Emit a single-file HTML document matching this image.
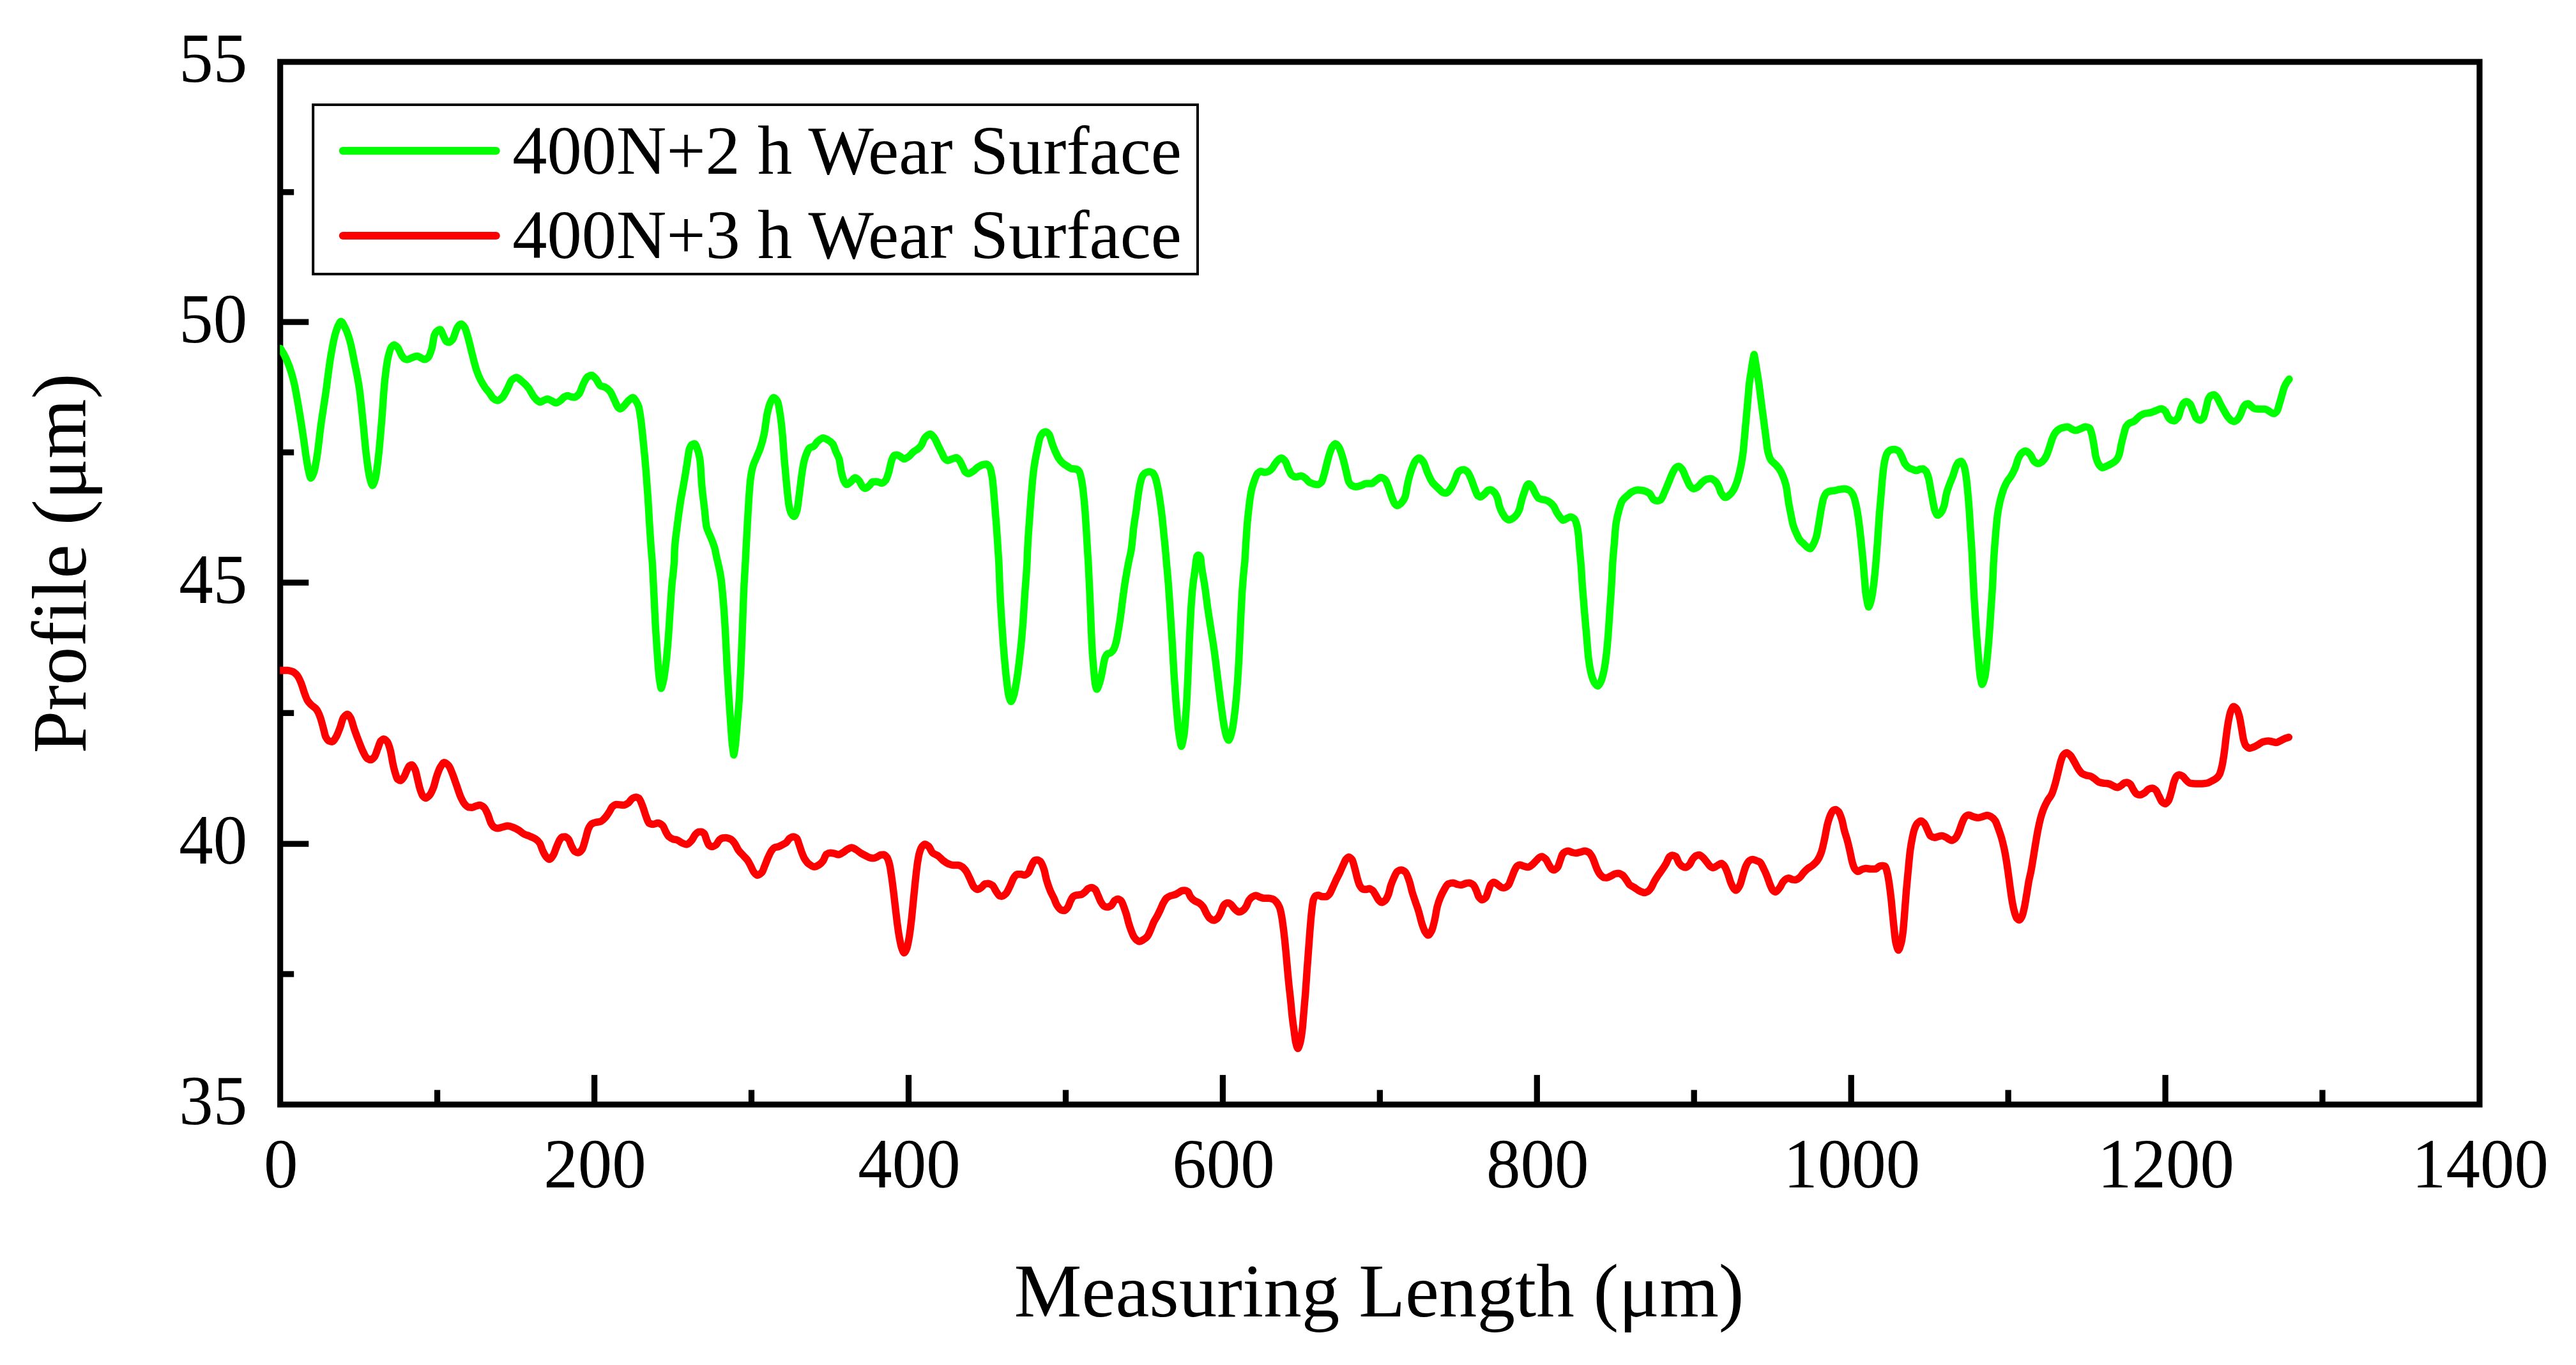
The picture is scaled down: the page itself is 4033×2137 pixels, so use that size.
<!DOCTYPE html>
<html lang="en"><head><meta charset="utf-8"><title>Wear surface profile</title>
<style>html,body{margin:0;padding:0;background:#fff}body{width:4033px;height:2137px;overflow:hidden}svg{display:block}text{font-family:"Liberation Serif",serif;fill:#000}</style></head><body>
<svg width="4033" height="2137" viewBox="0 0 4033 2137">
<rect x="0" y="0" width="4033" height="2137" fill="#fff"/>
<g stroke="#000" stroke-width="9.3" fill="none">
<line x1="684.6" y1="1729.2" x2="684.6" y2="1706.4"/>
<line x1="930.6" y1="1729.2" x2="930.6" y2="1682.9"/>
<line x1="1176.5" y1="1729.2" x2="1176.5" y2="1706.4"/>
<line x1="1422.5" y1="1729.2" x2="1422.5" y2="1682.9"/>
<line x1="1668.5" y1="1729.2" x2="1668.5" y2="1706.4"/>
<line x1="1914.4" y1="1729.2" x2="1914.4" y2="1682.9"/>
<line x1="2160.3" y1="1729.2" x2="2160.3" y2="1706.4"/>
<line x1="2406.3" y1="1729.2" x2="2406.3" y2="1682.9"/>
<line x1="2652.2" y1="1729.2" x2="2652.2" y2="1706.4"/>
<line x1="2898.2" y1="1729.2" x2="2898.2" y2="1682.9"/>
<line x1="3144.1" y1="1729.2" x2="3144.1" y2="1706.4"/>
<line x1="3390.1" y1="1729.2" x2="3390.1" y2="1682.9"/>
<line x1="3636.0" y1="1729.2" x2="3636.0" y2="1706.4"/>
<line x1="438.7" y1="1525.0" x2="460.2" y2="1525.0"/>
<line x1="438.7" y1="1321.2" x2="483.3" y2="1321.2"/>
<line x1="438.7" y1="1116.3" x2="460.2" y2="1116.3"/>
<line x1="438.7" y1="912.2" x2="483.3" y2="912.2"/>
<line x1="438.7" y1="708.2" x2="460.2" y2="708.2"/>
<line x1="438.7" y1="504.2" x2="483.3" y2="504.2"/>
<line x1="438.7" y1="300.8" x2="460.2" y2="300.8"/>
</g>
<rect x="438.7" y="96.9" width="3443.3" height="1632.3" fill="none" stroke="#000" stroke-width="9.2"/>
<g font-size="107.0">
<text transform="translate(439.7,1859) scale(1,1.035)" text-anchor="middle">0</text>
<text transform="translate(931.6,1859) scale(1,1.035)" text-anchor="middle">200</text>
<text transform="translate(1423.5,1859) scale(1,1.035)" text-anchor="middle">400</text>
<text transform="translate(1915.4,1859) scale(1,1.035)" text-anchor="middle">600</text>
<text transform="translate(2407.3,1859) scale(1,1.035)" text-anchor="middle">800</text>
<text transform="translate(2899.2,1859) scale(1,1.035)" text-anchor="middle">1000</text>
<text transform="translate(3391.1,1859) scale(1,1.035)" text-anchor="middle">1200</text>
<text transform="translate(3883.0,1859) scale(1,1.035)" text-anchor="middle">1400</text>
<text transform="translate(387.3,1759.9) scale(1,1.035)" text-anchor="end">35</text>
<text transform="translate(387.3,1351.8) scale(1,1.035)" text-anchor="end">40</text>
<text transform="translate(387.3,943.8) scale(1,1.035)" text-anchor="end">45</text>
<text transform="translate(387.3,535.7) scale(1,1.035)" text-anchor="end">50</text>
<text transform="translate(387.3,127.6) scale(1,1.035)" text-anchor="end">55</text>
</g>
<text x="1587.6" y="2061.3" font-size="119.2">Measuring Length (μm)</text>
<text transform="translate(133.5,1179.5) rotate(-90)" font-size="120.2">Profile (μm)</text>
<clipPath id="pc"><rect x="438.2" y="96.9" width="3443.8" height="1632.3"/></clipPath>
<g clip-path="url(#pc)" fill="none" stroke-width="11.5" stroke-linejoin="round" stroke-linecap="round">
<path stroke="#00ff00" d="M439.0 545.5C441.0 548.8 443.0 551.7 445.0 555.5C447.5 560.3 450.0 565.8 452.5 572.5C455.0 579.2 457.5 587.2 460.0 597.5C462.5 607.8 465.0 623.0 467.5 637.5C470.0 652.0 472.5 668.3 475.0 685.0C476.7 696.1 478.3 710.0 480.0 720.0C481.2 727.5 482.5 734.9 483.8 740.0C484.6 743.4 485.8 748.5 486.2 748.5C487.9 748.5 489.6 744.2 491.2 740.0C492.9 735.8 494.6 725.2 496.2 715.0C498.3 702.3 500.4 680.2 502.5 665.0C505.0 646.8 507.5 632.5 510.0 615.0C512.5 597.5 515.0 574.9 517.5 560.0C520.0 545.1 522.5 531.2 525.0 522.5C526.7 516.7 528.3 511.9 530.0 508.8C531.2 506.4 532.5 503.2 533.8 503.2C535.8 503.2 537.9 508.6 540.0 512.5C542.5 517.2 545.0 524.0 547.5 532.5C550.0 541.0 552.5 555.1 555.0 567.5C557.5 579.9 560.0 590.5 562.5 607.5C564.6 621.7 566.7 645.0 568.8 665.0C570.4 681.0 572.1 701.9 573.8 715.0C575.4 728.1 577.1 740.8 578.8 747.5C580.2 753.2 582.0 760.0 583.0 760.0C584.4 760.0 586.0 755.0 587.5 750.0C589.2 744.4 590.8 729.3 592.5 715.0C594.2 700.7 595.8 679.9 597.5 660.0C599.2 640.1 600.8 610.2 602.5 595.0C604.2 579.8 605.8 567.4 607.5 560.0C609.2 552.6 610.8 545.9 612.5 543.8C614.0 541.8 615.5 540.0 617.0 540.0C618.8 540.0 620.7 541.9 622.5 543.8C624.6 545.8 626.7 553.2 628.8 556.2C630.4 558.7 632.1 561.3 633.8 562.0C635.0 562.5 636.2 563.0 637.5 563.0C640.0 563.0 642.5 560.9 645.0 560.0C647.8 559.0 650.5 557.5 653.2 557.5C655.5 557.5 657.8 559.8 660.0 560.8C661.7 561.5 663.3 562.8 665.0 562.8C666.7 562.8 668.3 561.5 670.0 560.0C672.1 558.2 674.2 552.1 676.2 545.0C677.5 540.7 678.8 528.2 680.0 525.0C681.2 521.8 682.5 519.8 683.8 518.8C685.5 517.3 687.2 516.0 689.0 516.0C691.0 516.0 693.0 523.7 695.0 527.5C696.2 529.9 697.5 533.7 698.8 534.5C700.2 535.4 701.6 536.0 703.0 536.0C704.9 536.0 706.8 533.6 708.8 531.2C710.8 528.7 712.9 519.2 715.0 515.0C716.2 512.5 717.5 509.6 718.8 508.8C719.8 508.0 720.9 507.2 722.0 507.2C723.8 507.2 725.7 509.8 727.5 512.5C729.2 514.9 730.8 521.8 732.5 527.5C734.6 534.6 736.7 544.5 738.8 552.5C741.2 562.1 743.8 572.8 746.2 580.0C748.3 586.0 750.4 590.9 752.5 595.0C755.0 599.9 757.5 604.0 760.0 607.5C762.1 610.4 764.2 612.3 766.2 615.0C768.3 617.7 770.4 622.2 772.5 623.8C774.6 625.3 776.7 627.0 778.8 627.0C781.2 627.0 783.8 624.7 786.2 622.5C788.8 620.3 791.2 614.5 793.8 610.0C796.2 605.5 798.8 597.1 801.2 595.0C803.8 592.9 806.2 591.0 808.8 591.0C811.2 591.0 813.8 594.2 816.2 596.2C820.0 599.3 823.8 602.7 827.5 607.5C830.0 610.7 832.5 616.7 835.0 620.0C837.1 622.8 839.2 625.4 841.2 627.0C842.7 628.1 844.1 629.5 845.5 629.5C847.4 629.5 849.3 627.8 851.2 627.0C853.2 626.2 855.1 624.8 857.0 624.8C859.2 624.8 861.5 626.5 863.8 627.5C866.0 628.5 868.2 630.8 870.5 630.8C872.8 630.8 875.2 628.6 877.5 627.0C879.6 625.6 881.7 622.3 883.8 621.2C885.4 620.4 887.1 619.5 888.8 619.5C890.4 619.5 892.1 620.9 893.8 621.2C895.4 621.6 897.1 622.0 898.8 622.0C901.2 622.0 903.8 619.6 906.2 617.0C908.8 614.4 911.2 604.7 913.8 600.0C915.8 596.1 917.9 591.3 920.0 590.0C922.1 588.7 924.2 587.5 926.2 587.5C928.3 587.5 930.4 590.3 932.5 592.5C935.0 595.1 937.5 602.4 940.0 603.8C942.5 605.1 945.0 605.1 947.5 606.2C950.0 607.4 952.5 609.6 955.0 612.5C957.5 615.4 960.0 622.5 962.5 627.5C964.2 630.8 965.8 635.7 967.5 637.5C968.6 638.7 969.7 640.0 970.8 640.0C972.6 640.0 974.4 637.8 976.2 636.2C978.8 634.1 981.2 629.7 983.8 627.5C986.1 625.4 988.4 622.5 990.8 622.5C992.6 622.5 994.4 625.9 996.2 628.8C997.5 630.7 998.8 633.0 1000.0 637.0C1001.2 641.0 1002.5 650.7 1003.8 660.0C1005.0 669.3 1006.2 682.6 1007.5 695.0C1008.8 707.4 1010.0 719.9 1011.2 735.0C1012.3 748.1 1013.4 763.4 1014.5 780.0C1015.3 792.8 1016.2 809.2 1017.0 822.5C1017.8 835.8 1018.7 849.3 1019.5 860.0C1020.1 867.5 1020.7 871.6 1021.2 880.0C1022.1 891.9 1022.9 913.3 1023.8 930.0C1024.6 946.7 1025.4 965.4 1026.2 980.0C1027.3 998.9 1028.4 1015.5 1029.5 1030.0C1030.3 1041.2 1031.2 1053.3 1032.0 1060.0C1033.0 1068.0 1034.7 1077.8 1035.0 1077.8C1035.7 1077.8 1037.5 1070.6 1038.8 1065.0C1040.0 1059.4 1041.2 1050.3 1042.5 1040.0C1043.8 1029.7 1045.0 1015.7 1046.2 1000.0C1047.2 987.5 1048.2 970.0 1049.2 955.0C1050.1 942.5 1050.9 927.6 1051.8 917.5C1053.0 902.3 1054.2 900.2 1055.5 880.0C1055.8 876.0 1056.0 863.9 1056.2 860.0C1057.5 840.6 1058.8 835.3 1060.0 825.0C1061.8 809.9 1063.7 796.5 1065.5 785.0C1067.0 775.6 1068.5 768.6 1070.0 760.0C1071.7 750.4 1073.3 740.1 1075.0 730.0C1076.5 720.9 1078.0 706.6 1079.5 702.5C1080.7 699.3 1081.8 696.9 1083.0 696.2C1084.5 695.4 1086.0 694.8 1087.5 694.8C1089.1 694.8 1090.8 700.2 1092.5 705.0C1093.8 708.6 1095.0 713.3 1096.2 722.5C1097.1 728.6 1097.9 750.7 1098.8 760.0C1100.0 774.0 1101.2 781.7 1102.5 792.5C1103.8 803.3 1105.0 820.0 1106.2 825.0C1107.9 831.6 1109.6 833.2 1111.2 837.5C1113.8 843.9 1116.2 848.8 1118.8 857.5C1120.0 861.9 1121.2 869.7 1122.5 875.0C1122.9 876.8 1123.3 878.2 1123.8 880.0C1125.4 887.2 1127.1 893.7 1128.8 905.0C1130.0 913.5 1131.2 927.3 1132.5 942.5C1133.6 955.7 1134.7 973.6 1135.8 992.5C1136.6 1007.1 1137.4 1027.3 1138.2 1042.5C1139.2 1060.7 1140.2 1076.7 1141.2 1092.5C1142.1 1105.6 1142.9 1118.4 1143.8 1130.0C1144.6 1141.6 1145.4 1154.4 1146.2 1162.5C1147.1 1170.6 1148.5 1182.0 1148.8 1182.0C1149.0 1182.0 1150.4 1173.8 1151.2 1167.5C1152.3 1159.3 1153.4 1143.0 1154.5 1130.0C1155.5 1118.0 1156.5 1108.0 1157.5 1092.5C1158.3 1079.6 1159.2 1061.1 1160.0 1042.5C1160.7 1027.6 1161.3 1010.3 1162.0 992.5C1162.6 976.9 1163.2 956.8 1163.8 942.5C1164.3 928.2 1164.9 915.9 1165.5 905.0C1166.0 895.7 1166.5 889.1 1167.0 880.0C1167.3 873.9 1167.7 866.5 1168.0 860.0C1168.7 847.1 1169.3 834.4 1170.0 822.5C1170.8 807.6 1171.7 791.7 1172.5 780.0C1173.3 768.3 1174.2 756.3 1175.0 750.0C1176.2 740.5 1177.5 734.3 1178.8 730.0C1180.4 724.2 1182.1 721.6 1183.8 717.5C1185.8 712.4 1187.9 708.5 1190.0 702.5C1192.1 696.5 1194.2 689.8 1196.2 680.0C1197.9 672.2 1199.6 655.1 1201.2 647.5C1202.9 639.9 1204.6 633.5 1206.2 630.0C1207.9 626.5 1209.6 622.5 1211.2 622.5C1213.3 622.5 1215.4 625.1 1217.5 628.8C1218.8 631.0 1220.0 639.6 1221.2 647.5C1222.5 655.4 1223.8 666.8 1225.0 680.0C1226.0 690.6 1227.0 708.1 1228.0 720.0C1229.1 732.9 1230.2 744.1 1231.2 755.0C1232.5 767.5 1233.8 783.4 1235.0 790.0C1236.2 796.6 1237.5 801.6 1238.8 803.8C1240.2 806.2 1241.6 808.5 1243.0 808.5C1244.5 808.5 1246.0 804.5 1247.5 800.0C1248.8 796.3 1250.0 784.1 1251.2 775.0C1252.5 765.9 1253.8 753.6 1255.0 745.0C1256.2 736.4 1257.5 727.6 1258.8 722.5C1260.4 715.7 1262.1 711.0 1263.8 707.5C1265.0 704.9 1266.2 702.1 1267.5 701.2C1269.6 699.8 1271.7 700.0 1273.8 698.8C1275.8 697.5 1277.9 693.0 1280.0 691.2C1282.9 688.8 1285.8 685.8 1288.8 685.8C1291.2 685.8 1293.8 687.4 1296.2 688.8C1298.8 690.1 1301.2 691.8 1303.8 695.0C1305.4 697.2 1307.1 703.6 1308.8 707.5C1310.4 711.4 1312.1 713.3 1313.8 718.8C1315.0 722.9 1316.2 734.8 1317.5 740.0C1318.8 745.2 1320.0 750.1 1321.2 752.5C1322.8 755.4 1324.2 758.5 1325.8 758.5C1327.6 758.5 1329.4 756.4 1331.2 755.0C1333.8 753.1 1336.2 748.0 1338.8 748.0C1340.8 748.0 1342.9 750.3 1345.0 752.5C1346.7 754.2 1348.3 759.6 1350.0 761.2C1351.5 762.8 1353.0 764.5 1354.5 764.5C1356.8 764.5 1359.0 761.9 1361.2 760.0C1362.9 758.6 1364.6 754.8 1366.2 754.5C1367.9 754.2 1369.6 754.0 1371.2 754.0C1372.9 754.0 1374.6 754.6 1376.2 755.0C1377.7 755.4 1379.1 756.5 1380.5 756.5C1382.4 756.5 1384.3 754.6 1386.2 752.5C1387.9 750.7 1389.6 745.1 1391.2 740.0C1392.9 734.9 1394.6 724.2 1396.2 720.0C1397.5 716.9 1398.8 713.4 1400.0 713.0C1401.5 712.5 1403.0 712.2 1404.5 712.2C1406.3 712.2 1408.2 714.0 1410.0 715.0C1411.8 716.0 1413.7 718.5 1415.5 718.5C1417.8 718.5 1420.2 716.5 1422.5 715.0C1425.0 713.3 1427.5 709.5 1430.0 707.5C1432.5 705.5 1435.0 704.6 1437.5 702.5C1439.2 701.1 1440.8 699.4 1442.5 697.0C1444.2 694.6 1445.8 688.5 1447.5 686.2C1449.2 684.0 1450.8 682.2 1452.5 681.2C1453.8 680.5 1455.2 679.5 1456.5 679.5C1458.5 679.5 1460.5 682.5 1462.5 685.0C1464.6 687.6 1466.7 693.3 1468.8 697.5C1470.8 701.7 1472.9 705.8 1475.0 710.0C1476.2 712.5 1477.5 716.2 1478.8 717.5C1480.4 719.3 1482.1 721.0 1483.8 721.0C1485.8 721.0 1487.9 719.4 1490.0 718.8C1492.5 717.9 1495.0 716.5 1497.5 716.5C1499.2 716.5 1500.8 719.1 1502.5 721.2C1504.2 723.4 1505.8 727.9 1507.5 731.2C1508.8 733.8 1510.0 737.6 1511.2 738.8C1512.9 740.2 1514.6 741.5 1516.2 741.5C1518.8 741.5 1521.2 739.1 1523.8 737.5C1526.2 735.9 1528.8 732.8 1531.2 731.2C1533.8 729.7 1536.2 728.0 1538.8 727.5C1540.7 727.1 1542.6 726.8 1544.5 726.8C1546.3 726.8 1548.2 729.2 1550.0 732.5C1551.2 734.7 1552.5 741.8 1553.8 750.0C1554.8 757.1 1555.9 772.5 1557.0 785.0C1558.0 796.6 1559.0 808.8 1560.0 822.5C1560.8 833.9 1561.7 847.1 1562.5 860.0C1562.9 866.5 1563.3 872.0 1563.8 880.0C1564.4 892.8 1565.1 916.5 1565.8 930.0C1566.8 950.3 1567.8 965.1 1568.8 980.0C1570.0 998.6 1571.2 1015.7 1572.5 1030.0C1573.8 1044.3 1575.0 1057.3 1576.2 1067.5C1577.3 1076.3 1578.4 1086.2 1579.5 1090.0C1580.7 1094.1 1582.0 1098.2 1583.0 1098.2C1584.3 1098.2 1586.0 1092.5 1587.5 1087.5C1589.2 1082.0 1590.8 1070.9 1592.5 1060.0C1594.2 1049.1 1595.8 1035.3 1597.5 1020.0C1598.8 1008.5 1600.0 995.8 1601.2 980.0C1602.3 966.3 1603.4 946.1 1604.5 930.0C1605.7 912.7 1606.8 903.2 1608.0 880.0C1608.2 875.0 1608.5 865.2 1608.8 860.0C1609.8 837.6 1610.9 825.5 1612.0 810.0C1613.0 795.7 1614.0 781.5 1615.0 770.0C1616.2 755.6 1617.5 741.5 1618.8 732.5C1620.4 720.5 1622.1 713.0 1623.8 705.0C1625.4 697.0 1627.1 687.2 1628.8 683.8C1630.4 680.3 1632.1 677.7 1633.8 677.0C1635.0 676.5 1636.2 676.0 1637.5 676.0C1639.2 676.0 1640.8 677.9 1642.5 680.0C1644.2 682.1 1645.8 690.5 1647.5 695.0C1649.2 699.5 1650.8 703.8 1652.5 707.5C1654.2 711.2 1655.8 715.0 1657.5 717.5C1659.6 720.7 1661.7 723.2 1663.8 725.0C1666.2 727.2 1668.8 728.4 1671.2 730.0C1673.3 731.3 1675.4 733.4 1677.5 733.8C1680.0 734.2 1682.5 734.0 1685.0 734.5C1686.7 734.8 1688.3 736.3 1690.0 738.8C1691.0 740.2 1692.0 745.2 1693.0 750.0C1694.1 755.2 1695.2 763.2 1696.2 772.5C1697.1 779.7 1697.9 789.4 1698.8 800.0C1699.4 808.5 1700.1 819.3 1700.8 830.0C1701.3 839.3 1701.9 850.4 1702.5 860.0C1702.9 866.9 1703.3 872.7 1703.8 880.0C1704.6 894.6 1705.4 911.4 1706.2 930.0C1706.9 944.9 1707.6 964.6 1708.2 980.0C1708.8 993.4 1709.4 1007.9 1710.0 1017.5C1710.8 1031.2 1711.7 1041.1 1712.5 1050.0C1713.3 1058.9 1714.2 1068.6 1715.0 1072.5C1715.7 1075.6 1716.6 1079.0 1717.0 1079.0C1718.3 1079.0 1719.8 1073.9 1721.2 1070.0C1722.5 1066.5 1723.8 1060.5 1725.0 1055.0C1726.7 1047.6 1728.3 1034.1 1730.0 1030.0C1731.2 1026.9 1732.5 1024.5 1733.8 1023.8C1735.4 1022.8 1737.1 1022.9 1738.8 1022.0C1740.4 1021.1 1742.1 1019.1 1743.8 1016.2C1745.0 1014.1 1746.2 1009.8 1747.5 1005.0C1748.8 1000.2 1750.0 992.4 1751.2 985.0C1752.5 977.6 1753.8 969.1 1755.0 960.0C1756.2 950.9 1757.5 939.1 1758.8 930.0C1760.0 920.9 1761.2 912.6 1762.5 905.0C1764.0 895.9 1765.5 887.6 1767.0 880.0C1768.4 872.8 1769.8 868.9 1771.2 860.0C1772.5 852.1 1773.8 834.7 1775.0 825.0C1776.2 815.3 1777.5 808.9 1778.8 800.0C1779.8 792.2 1780.9 782.2 1782.0 775.0C1783.0 768.4 1784.0 761.8 1785.0 757.5C1786.2 752.1 1787.5 747.0 1788.8 745.0C1790.4 742.4 1792.1 740.7 1793.8 740.0C1795.6 739.2 1797.4 738.5 1799.2 738.5C1801.2 738.5 1803.1 739.3 1805.0 740.5C1806.2 741.3 1807.5 744.3 1808.8 747.5C1810.0 750.7 1811.2 756.5 1812.5 762.5C1813.8 768.5 1815.0 776.5 1816.2 785.0C1817.3 792.3 1818.4 800.5 1819.5 810.0C1820.3 817.3 1821.2 826.7 1822.0 835.0C1822.8 843.3 1823.7 851.1 1824.5 860.0C1825.1 866.2 1825.7 873.3 1826.2 880.0C1827.3 892.4 1828.4 903.3 1829.5 917.5C1830.5 930.6 1831.5 947.1 1832.5 962.5C1833.5 977.9 1834.5 993.1 1835.5 1010.0C1836.3 1024.1 1837.2 1041.9 1838.0 1055.0C1839.1 1072.1 1840.2 1086.5 1841.2 1100.0C1842.5 1115.6 1843.8 1132.8 1845.0 1142.5C1846.5 1154.1 1849.0 1168.5 1849.5 1168.5C1850.2 1168.5 1852.3 1159.1 1853.8 1150.0C1855.0 1141.9 1856.2 1124.1 1857.5 1105.0C1858.3 1092.3 1859.2 1073.6 1860.0 1055.0C1860.7 1040.1 1861.3 1019.9 1862.0 1005.0C1862.8 986.4 1863.7 967.9 1864.5 955.0C1865.5 939.5 1866.5 926.8 1867.5 917.5C1868.8 905.8 1870.0 899.3 1871.2 890.0C1872.1 883.8 1872.9 872.6 1873.8 871.2C1874.6 869.9 1875.4 869.0 1876.2 869.0C1877.3 869.0 1878.4 870.3 1879.5 872.5C1880.1 873.7 1880.7 883.3 1881.2 887.5C1882.9 899.6 1884.6 906.4 1886.2 917.5C1887.9 928.6 1889.6 943.4 1891.2 955.0C1892.9 966.6 1894.6 976.7 1896.2 987.5C1897.9 998.3 1899.6 1008.0 1901.2 1020.0C1902.9 1032.0 1904.6 1046.7 1906.2 1060.0C1907.9 1073.3 1909.6 1087.6 1911.2 1100.0C1912.9 1112.4 1914.6 1125.8 1916.2 1135.0C1917.5 1141.9 1918.8 1149.3 1920.0 1152.5C1921.2 1155.7 1922.5 1159.0 1923.8 1159.0C1924.9 1159.0 1927.1 1151.7 1928.8 1145.0C1930.4 1138.3 1932.1 1124.6 1933.8 1110.0C1935.0 1099.1 1936.2 1084.7 1937.5 1067.5C1938.3 1056.0 1939.2 1041.2 1940.0 1025.0C1940.7 1012.0 1941.3 994.1 1942.0 980.0C1942.8 962.3 1943.7 942.9 1944.5 930.0C1945.5 914.5 1946.5 903.4 1947.5 892.5C1947.9 887.9 1948.3 885.1 1948.8 880.0C1949.2 874.9 1949.6 866.5 1950.0 860.0C1950.8 847.1 1951.7 832.5 1952.5 822.5C1953.3 812.5 1954.2 804.6 1955.0 797.5C1956.2 786.8 1957.5 776.0 1958.8 770.0C1960.4 762.0 1962.1 757.1 1963.8 752.5C1965.4 747.9 1967.1 742.9 1968.8 741.2C1970.4 739.6 1972.1 738.0 1973.8 738.0C1975.8 738.0 1977.9 739.5 1980.0 739.5C1982.1 739.5 1984.2 738.8 1986.2 738.0C1987.9 737.4 1989.6 735.6 1991.2 733.8C1992.9 731.9 1994.6 728.5 1996.2 726.2C1997.9 724.0 1999.6 721.4 2001.2 720.0C2002.9 718.6 2004.6 717.0 2006.2 717.0C2008.3 717.0 2010.4 719.7 2012.5 722.5C2014.2 724.7 2015.8 731.6 2017.5 735.0C2019.2 738.4 2020.8 742.5 2022.5 743.8C2024.6 745.4 2026.7 746.8 2028.8 746.8C2031.5 746.8 2034.2 745.0 2037.0 745.0C2039.2 745.0 2041.5 747.1 2043.8 748.8C2045.8 750.2 2047.9 753.8 2050.0 755.0C2052.1 756.2 2054.2 756.9 2056.2 757.5C2058.3 758.1 2060.4 758.8 2062.5 758.8C2064.6 758.8 2066.7 757.1 2068.8 755.0C2070.4 753.3 2072.1 745.7 2073.8 740.0C2075.4 734.3 2077.1 726.0 2078.8 720.0C2080.0 715.5 2081.2 710.9 2082.5 707.5C2083.8 704.1 2085.0 700.4 2086.2 698.8C2087.8 696.8 2089.2 694.8 2090.8 694.8C2092.6 694.8 2094.4 697.4 2096.2 700.0C2098.3 702.9 2100.4 710.6 2102.5 717.5C2104.2 723.0 2105.8 730.9 2107.5 737.5C2109.0 743.4 2110.5 752.3 2112.0 755.0C2113.4 757.5 2114.8 759.3 2116.2 760.0C2118.3 761.1 2120.4 762.0 2122.5 762.0C2125.4 762.0 2128.3 760.9 2131.2 760.0C2133.8 759.3 2136.2 757.0 2138.8 757.0C2141.7 757.0 2144.6 757.0 2147.5 757.0C2149.6 757.0 2151.7 753.9 2153.8 752.5C2156.5 750.7 2159.2 747.5 2162.0 747.5C2164.2 747.5 2166.5 749.2 2168.8 751.2C2170.4 752.8 2172.1 758.2 2173.8 762.5C2175.4 766.8 2177.1 773.2 2178.8 777.5C2180.4 781.8 2182.1 787.0 2183.8 788.8C2185.0 790.1 2186.2 791.5 2187.5 791.5C2189.6 791.5 2191.7 789.4 2193.8 787.5C2195.8 785.6 2197.9 782.9 2200.0 777.5C2201.2 774.3 2202.5 763.0 2203.8 757.5C2205.8 748.4 2207.9 740.7 2210.0 735.0C2212.1 729.3 2214.2 723.6 2216.2 721.2C2218.1 719.2 2219.9 717.0 2221.8 717.0C2224.1 717.0 2226.4 720.4 2228.8 723.8C2230.8 726.7 2232.9 735.3 2235.0 740.0C2237.5 745.7 2240.0 751.6 2242.5 755.0C2245.4 758.9 2248.3 760.9 2251.2 763.8C2253.8 766.2 2256.2 769.8 2258.8 770.8C2260.4 771.4 2262.1 772.0 2263.8 772.0C2266.2 772.0 2268.8 768.2 2271.2 765.0C2273.3 762.3 2275.4 757.1 2277.5 752.5C2279.2 748.8 2280.8 742.0 2282.5 740.0C2284.2 738.0 2285.8 736.5 2287.5 736.0C2288.8 735.6 2290.0 735.2 2291.2 735.2C2293.3 735.2 2295.4 736.9 2297.5 738.8C2299.6 740.6 2301.7 746.4 2303.8 751.2C2305.4 755.1 2307.1 760.9 2308.8 765.0C2310.4 769.1 2312.1 775.0 2313.8 776.2C2315.0 777.2 2316.2 778.0 2317.5 778.0C2319.6 778.0 2321.7 775.4 2323.8 773.8C2325.8 772.1 2327.9 768.2 2330.0 767.5C2331.2 767.1 2332.5 766.8 2333.8 766.8C2335.8 766.8 2337.9 769.0 2340.0 771.2C2341.5 772.9 2343.0 775.9 2344.5 780.0C2345.5 782.7 2346.5 789.5 2347.5 792.5C2349.2 797.5 2350.8 800.8 2352.5 803.8C2354.2 806.8 2355.8 809.9 2357.5 811.2C2359.2 812.6 2360.8 814.0 2362.5 814.0C2364.6 814.0 2366.7 812.5 2368.8 811.2C2370.8 810.0 2372.9 807.9 2375.0 805.0C2376.2 803.3 2377.5 800.8 2378.8 797.5C2380.0 794.2 2381.2 786.8 2382.5 782.5C2384.2 776.7 2385.8 771.8 2387.5 767.5C2388.8 764.2 2390.0 759.7 2391.2 758.8C2392.1 758.1 2392.9 757.5 2393.8 757.5C2395.4 757.5 2397.1 760.3 2398.8 762.5C2400.4 764.7 2402.1 769.6 2403.8 772.5C2405.4 775.4 2407.1 779.1 2408.8 780.0C2410.8 781.1 2412.9 781.5 2415.0 782.0C2416.7 782.4 2418.3 782.5 2420.0 783.0C2422.1 783.6 2424.2 784.8 2426.2 786.2C2428.3 787.7 2430.4 789.7 2432.5 792.5C2434.2 794.8 2435.8 799.7 2437.5 802.5C2439.6 806.0 2441.7 809.1 2443.8 811.2C2445.0 812.6 2446.2 814.5 2447.5 814.5C2449.6 814.5 2451.7 812.2 2453.8 811.2C2455.4 810.5 2457.1 809.2 2458.8 809.2C2460.8 809.2 2462.9 810.6 2465.0 812.5C2466.2 813.7 2467.5 817.8 2468.8 822.5C2469.6 825.7 2470.4 830.5 2471.2 837.5C2471.8 842.4 2472.4 853.3 2473.0 860.0C2473.6 867.4 2474.3 872.2 2474.9 880.0C2475.8 890.1 2476.6 906.1 2477.4 917.5C2478.4 931.1 2479.4 942.9 2480.4 954.9C2481.5 967.9 2482.6 979.9 2483.7 992.4C2484.8 1004.9 2485.9 1021.3 2486.9 1029.9C2488.4 1041.1 2489.8 1049.5 2491.2 1054.9C2492.8 1061.2 2494.5 1066.1 2496.2 1068.6C2497.8 1071.1 2499.5 1073.9 2501.2 1073.9C2502.8 1073.9 2504.5 1070.5 2506.2 1067.4C2507.8 1064.2 2509.5 1057.6 2511.2 1049.9C2512.4 1044.1 2513.7 1035.3 2514.9 1024.9C2515.9 1016.6 2516.9 1005.0 2517.9 992.4C2518.7 981.9 2519.6 967.4 2520.4 954.9C2521.2 942.5 2522.1 931.4 2522.9 917.5C2523.6 906.3 2524.2 889.7 2524.9 880.0C2525.6 869.8 2526.3 863.2 2527.0 855.0C2528.0 843.2 2529.0 826.7 2530.0 820.0C2531.7 808.8 2533.3 803.2 2535.0 797.5C2536.7 791.8 2538.3 786.3 2540.0 783.8C2542.5 780.0 2545.0 778.5 2547.5 776.2C2550.0 774.0 2552.5 771.2 2555.0 770.0C2557.9 768.6 2560.8 767.0 2563.8 767.0C2566.7 767.0 2569.6 767.5 2572.5 768.0C2575.8 768.6 2579.2 770.1 2582.5 772.5C2584.6 774.0 2586.7 780.7 2588.8 782.0C2590.7 783.2 2592.6 784.2 2594.5 784.2C2596.3 784.2 2598.2 783.5 2600.0 782.5C2602.1 781.4 2604.2 774.5 2606.2 770.0C2608.3 765.5 2610.4 760.0 2612.5 755.0C2614.6 750.0 2616.7 744.0 2618.8 740.0C2620.4 736.8 2622.1 733.1 2623.8 732.0C2625.2 731.0 2626.8 730.0 2628.2 730.0C2630.1 730.0 2631.9 732.7 2633.8 735.0C2635.8 737.7 2637.9 744.4 2640.0 748.8C2642.1 753.1 2644.2 758.9 2646.2 761.2C2647.9 763.1 2649.6 765.2 2651.2 765.2C2653.3 765.2 2655.4 763.8 2657.5 762.5C2660.0 761.0 2662.5 757.1 2665.0 755.0C2667.1 753.3 2669.2 751.1 2671.2 750.5C2673.5 749.8 2675.8 749.2 2678.0 749.2C2680.3 749.2 2682.7 751.1 2685.0 753.0C2686.7 754.3 2688.3 757.0 2690.0 760.0C2691.7 763.0 2693.3 770.1 2695.0 772.5C2697.1 775.5 2699.2 778.8 2701.2 778.8C2703.3 778.8 2705.4 776.7 2707.5 775.0C2709.6 773.3 2711.7 770.8 2713.8 767.5C2715.8 764.2 2717.9 758.8 2720.0 752.5C2721.7 747.5 2723.3 740.3 2725.0 732.5C2725.8 728.9 2726.5 724.7 2727.3 720.0C2728.0 715.9 2728.6 711.7 2729.3 706.0C2729.9 700.8 2730.5 692.7 2731.1 686.0C2731.7 679.3 2732.3 672.7 2732.9 666.0C2733.5 659.3 2734.1 652.7 2734.7 646.0C2735.3 639.3 2735.9 632.7 2736.5 626.0C2737.3 617.4 2738.0 606.5 2738.8 600.0C2739.7 592.4 2740.6 587.9 2741.5 582.0C2742.3 576.6 2743.2 570.7 2744.0 566.0C2744.7 561.9 2745.9 555.0 2746.2 555.0C2746.5 555.0 2747.7 562.8 2748.4 567.0C2749.3 572.0 2750.1 577.6 2751.0 583.0C2751.9 588.6 2752.8 593.7 2753.7 600.0C2754.6 606.5 2755.6 614.7 2756.5 622.0C2757.4 629.0 2758.3 636.1 2759.2 643.0C2760.1 650.1 2761.1 657.0 2762.0 664.0C2762.9 671.0 2763.9 678.0 2764.8 685.0C2765.7 692.0 2766.7 702.0 2767.6 706.0C2769.2 712.9 2770.8 717.3 2772.4 719.8C2774.9 723.7 2777.5 724.7 2780.0 727.5C2782.1 729.8 2784.2 731.8 2786.2 735.0C2787.9 737.5 2789.6 741.0 2791.2 745.0C2792.9 749.0 2794.6 753.0 2796.2 760.0C2797.5 765.3 2798.8 777.6 2800.0 785.0C2801.2 792.4 2802.5 798.8 2803.8 805.0C2805.0 811.2 2806.2 818.4 2807.5 822.5C2809.2 828.0 2810.8 831.3 2812.5 835.0C2814.2 838.7 2815.8 842.8 2817.5 845.0C2819.6 847.8 2821.7 849.4 2823.8 851.2C2827.1 854.2 2830.4 859.0 2833.8 859.0C2835.4 859.0 2837.1 855.4 2838.8 852.5C2840.4 849.6 2842.1 845.8 2843.8 840.0C2845.0 835.7 2846.2 827.1 2847.5 820.0C2848.8 812.9 2850.0 804.1 2851.2 797.5C2852.5 790.9 2853.8 783.3 2855.0 780.0C2856.7 775.7 2858.3 772.4 2860.0 771.2C2862.1 769.9 2864.2 769.1 2866.2 768.8C2868.3 768.4 2870.4 768.3 2872.5 768.0C2875.0 767.6 2877.5 766.7 2880.0 766.2C2882.7 765.8 2885.3 765.2 2888.0 765.2C2890.3 765.2 2892.7 766.3 2895.0 767.5C2897.1 768.6 2899.2 771.2 2901.2 775.0C2902.9 778.0 2904.6 785.0 2906.2 792.5C2907.5 798.1 2908.8 806.2 2910.0 815.0C2911.0 822.0 2912.0 830.9 2913.0 840.0C2913.8 847.6 2914.7 856.7 2915.5 865.0C2916.0 870.0 2916.5 874.5 2917.0 880.0C2917.7 887.4 2918.3 897.1 2919.0 905.0C2919.8 913.8 2920.5 924.8 2921.2 930.0C2922.7 939.9 2924.9 950.2 2925.5 950.2C2926.6 950.2 2928.5 943.5 2930.0 937.5C2931.2 932.5 2932.5 922.5 2933.8 912.5C2934.8 903.8 2935.9 892.3 2937.0 880.0C2937.8 870.5 2938.7 859.1 2939.5 847.5C2940.3 835.9 2941.2 821.0 2942.0 810.0C2943.0 796.8 2944.0 786.8 2945.0 775.0C2945.8 765.1 2946.7 752.7 2947.5 745.0C2948.5 735.7 2949.5 727.0 2950.5 722.5C2952.0 715.8 2953.5 710.8 2955.0 708.8C2956.7 706.5 2958.3 705.0 2960.0 704.5C2961.8 703.9 2963.7 703.5 2965.5 703.5C2967.8 703.5 2970.2 704.7 2972.5 706.2C2974.2 707.4 2975.8 711.7 2977.5 715.0C2979.2 718.3 2980.8 723.9 2982.5 726.2C2984.6 729.2 2986.7 731.3 2988.8 732.5C2990.8 733.7 2992.9 734.2 2995.0 735.0C2996.7 735.6 2998.3 736.8 3000.0 736.8C3002.1 736.8 3004.2 734.9 3006.2 734.5C3007.7 734.3 3009.1 734.0 3010.5 734.0C3012.0 734.0 3013.5 735.7 3015.0 737.5C3016.5 739.3 3018.0 743.5 3019.5 748.8C3020.5 752.3 3021.5 759.6 3022.5 765.0C3023.8 771.7 3025.0 778.8 3026.2 785.0C3027.3 790.4 3028.4 797.5 3029.5 800.0C3030.9 803.3 3032.3 806.5 3033.8 806.5C3035.4 806.5 3037.1 804.5 3038.8 802.5C3040.4 800.5 3042.1 796.5 3043.8 791.2C3045.0 787.3 3046.2 777.2 3047.5 772.5C3049.2 766.2 3050.8 762.0 3052.5 757.5C3054.2 753.0 3055.8 749.5 3057.5 745.0C3059.2 740.5 3060.8 733.5 3062.5 730.0C3063.8 727.4 3065.0 724.6 3066.2 723.8C3067.5 722.9 3068.8 722.2 3070.0 722.2C3071.7 722.2 3073.3 725.9 3075.0 730.0C3076.0 732.5 3077.0 738.5 3078.0 745.0C3078.8 750.4 3079.7 758.9 3080.5 767.5C3081.3 776.1 3082.2 785.9 3083.0 797.5C3083.7 806.8 3084.3 819.6 3085.0 830.0C3085.7 840.4 3086.3 848.4 3087.0 860.0C3087.3 865.8 3087.7 873.1 3088.0 880.0C3088.6 892.0 3089.2 906.5 3089.8 917.5C3090.5 931.6 3091.2 943.1 3092.0 955.0C3092.8 968.2 3093.7 981.1 3094.5 992.5C3095.5 1006.2 3096.5 1018.3 3097.5 1030.0C3098.3 1039.7 3099.2 1052.2 3100.0 1057.5C3101.1 1064.3 3102.7 1071.5 3103.2 1071.5C3104.3 1071.5 3106.1 1065.8 3107.5 1060.0C3108.8 1054.9 3110.0 1041.9 3111.2 1030.0C3112.3 1019.7 3113.4 1006.7 3114.5 992.5C3115.3 981.6 3116.2 967.5 3117.0 955.0C3117.8 942.5 3118.7 932.4 3119.5 917.5C3120.1 907.1 3120.7 890.0 3121.2 880.0C3122.3 861.4 3123.4 847.6 3124.5 835.0C3125.5 823.4 3126.5 812.0 3127.5 805.0C3128.8 796.2 3130.0 790.3 3131.2 785.0C3132.9 777.9 3134.6 772.0 3136.2 767.5C3138.3 761.8 3140.4 757.3 3142.5 753.8C3144.6 750.2 3146.7 748.4 3148.8 745.0C3150.8 741.6 3152.9 737.5 3155.0 732.5C3156.7 728.5 3158.3 721.0 3160.0 717.5C3161.7 714.0 3163.3 710.9 3165.0 709.5C3167.1 707.7 3169.2 706.0 3171.2 706.0C3173.8 706.0 3176.2 709.3 3178.8 712.0C3180.8 714.3 3182.9 720.8 3185.0 722.5C3187.1 724.2 3189.2 725.8 3191.2 725.8C3193.3 725.8 3195.4 724.1 3197.5 722.5C3199.6 720.9 3201.7 717.7 3203.8 713.8C3205.4 710.6 3207.1 704.8 3208.8 700.0C3210.4 695.2 3212.1 688.7 3213.8 685.0C3215.4 681.3 3217.1 678.1 3218.8 676.2C3220.8 673.9 3222.9 672.2 3225.0 671.2C3227.1 670.3 3229.2 669.7 3231.2 669.2C3233.2 668.8 3235.1 668.2 3237.0 668.2C3239.2 668.2 3241.5 670.9 3243.8 671.8C3245.8 672.6 3247.9 673.8 3250.0 673.8C3252.5 673.8 3255.0 672.2 3257.5 671.2C3260.0 670.3 3262.5 668.2 3265.0 668.2C3267.1 668.2 3269.2 668.9 3271.2 670.0C3272.5 670.7 3273.8 675.6 3275.0 680.0C3276.0 683.5 3277.0 689.5 3278.0 695.0C3279.1 701.0 3280.2 711.0 3281.2 715.0C3282.9 721.1 3284.6 725.2 3286.2 727.5C3287.9 729.8 3289.6 732.2 3291.2 732.2C3293.3 732.2 3295.4 730.9 3297.5 730.0C3300.0 729.0 3302.5 727.7 3305.0 726.2C3307.5 724.8 3310.0 723.7 3312.5 721.2C3314.2 719.6 3315.8 716.8 3317.5 712.5C3318.8 709.2 3320.0 700.4 3321.2 695.0C3322.5 689.6 3323.8 684.5 3325.0 680.0C3326.2 675.5 3327.5 669.5 3328.8 667.5C3330.4 664.9 3332.1 663.5 3333.8 662.5C3336.2 661.0 3338.8 660.9 3341.2 659.5C3344.2 657.9 3347.1 653.1 3350.0 651.2C3352.5 649.6 3355.0 648.1 3357.5 647.5C3360.4 646.8 3363.3 646.9 3366.2 646.2C3369.2 645.6 3372.1 644.0 3375.0 643.0C3377.9 642.0 3380.8 640.0 3383.8 640.0C3385.8 640.0 3387.9 641.8 3390.0 643.8C3391.7 645.3 3393.3 651.8 3395.0 653.8C3396.7 655.7 3398.3 657.4 3400.0 658.0C3401.2 658.4 3402.5 658.9 3403.7 658.9C3405.8 658.9 3407.9 656.4 3410.0 653.6C3411.6 651.4 3413.3 642.6 3415.0 638.6C3416.2 635.7 3417.5 632.3 3418.7 631.2C3420.1 629.8 3421.6 628.7 3423.0 628.7C3424.9 628.7 3426.8 630.4 3428.7 632.4C3430.4 634.1 3432.0 639.9 3433.7 643.6C3435.4 647.4 3437.0 653.5 3438.7 654.9C3440.6 656.5 3442.5 657.9 3444.5 657.9C3446.3 657.9 3448.1 656.1 3449.9 653.6C3451.2 652.0 3452.4 644.7 3453.7 639.9C3454.9 635.1 3456.2 627.6 3457.4 624.9C3458.7 622.2 3459.9 620.1 3461.2 619.4C3462.9 618.6 3464.5 617.9 3466.2 617.9C3467.9 617.9 3469.5 620.3 3471.2 622.4C3472.8 624.5 3474.5 629.2 3476.2 632.4C3478.3 636.4 3480.3 640.1 3482.4 643.6C3484.5 647.2 3486.6 651.1 3488.7 653.6C3490.3 655.7 3492.0 657.8 3493.7 658.6C3494.9 659.2 3496.2 659.9 3497.4 659.9C3499.1 659.9 3500.7 658.6 3502.4 657.4C3504.1 656.1 3505.7 653.0 3507.4 649.9C3509.1 646.8 3510.7 640.1 3512.4 637.4C3513.6 635.4 3514.9 633.5 3516.1 632.9C3517.2 632.4 3518.3 631.9 3519.4 631.9C3521.2 631.9 3523.1 634.8 3524.9 636.1C3526.6 637.4 3528.2 639.7 3529.9 639.9C3532.4 640.2 3534.9 640.4 3537.4 640.4C3540.3 640.4 3543.2 640.4 3546.1 640.4C3548.2 640.4 3550.3 642.4 3552.4 643.6C3554.0 644.6 3555.7 646.5 3557.4 646.9C3558.4 647.1 3559.4 647.4 3560.4 647.4C3561.9 647.4 3563.4 645.6 3564.9 643.6C3566.1 642.0 3567.4 636.4 3568.6 632.4C3569.8 628.6 3571.0 624.1 3572.2 620.0C3573.5 615.5 3574.8 609.9 3576.1 606.6C3577.5 603.2 3578.8 600.7 3580.2 598.5C3581.5 596.5 3582.7 595.2 3584.0 593.5"/>
<path stroke="#ff0000" d="M439.0 1049.5C442.7 1049.5 446.3 1049.5 450.0 1049.5C452.5 1049.5 455.0 1050.4 457.5 1051.2C460.0 1052.1 462.5 1054.2 465.0 1057.0C467.1 1059.3 469.2 1063.9 471.2 1068.8C472.9 1072.6 474.6 1079.2 476.2 1083.8C477.9 1088.3 479.6 1093.5 481.2 1096.2C483.3 1099.7 485.4 1101.7 487.5 1103.8C490.0 1106.2 492.5 1107.0 495.0 1110.0C497.1 1112.5 499.2 1117.1 501.2 1122.5C502.9 1126.8 504.6 1134.0 506.2 1140.0C507.5 1144.5 508.8 1151.4 510.0 1153.8C511.7 1156.9 513.3 1159.3 515.0 1160.0C516.7 1160.7 518.3 1161.2 520.0 1161.2C522.1 1161.2 524.2 1157.1 526.2 1153.8C528.3 1150.4 530.4 1144.3 532.5 1138.8C534.2 1134.3 535.8 1126.1 537.5 1123.8C539.6 1120.9 541.7 1118.2 543.8 1118.2C545.4 1118.2 547.1 1121.1 548.8 1123.8C550.8 1127.0 552.9 1136.6 555.0 1142.5C557.5 1149.6 560.0 1156.2 562.5 1162.5C564.6 1167.8 566.7 1173.5 568.8 1177.5C570.8 1181.5 572.9 1186.3 575.0 1187.5C576.8 1188.6 578.7 1189.5 580.5 1189.5C582.4 1189.5 584.3 1187.3 586.2 1185.0C587.9 1183.0 589.6 1176.7 591.2 1172.5C592.9 1168.3 594.6 1161.7 596.2 1160.0C597.8 1158.4 599.2 1157.0 600.8 1157.0C602.6 1157.0 604.4 1159.0 606.2 1161.2C607.9 1163.3 609.6 1168.9 611.2 1175.0C612.5 1179.6 613.8 1189.3 615.0 1195.0C616.2 1200.7 617.5 1206.0 618.8 1210.0C620.0 1214.0 621.2 1219.0 622.5 1220.0C623.9 1221.2 625.3 1222.0 626.8 1222.0C628.7 1222.0 630.6 1218.9 632.5 1216.2C634.2 1213.9 635.8 1208.2 637.5 1205.0C638.8 1202.6 640.0 1199.5 641.2 1198.8C642.3 1198.1 643.4 1197.5 644.5 1197.5C646.3 1197.5 648.2 1201.2 650.0 1205.0C651.2 1207.6 652.5 1215.0 653.8 1220.0C655.0 1225.0 656.2 1231.1 657.5 1235.0C659.0 1239.6 660.5 1244.5 662.0 1246.2C663.4 1247.9 664.8 1249.5 666.2 1249.5C668.3 1249.5 670.4 1247.2 672.5 1245.0C674.6 1242.8 676.7 1237.9 678.8 1232.5C680.4 1228.2 682.1 1219.8 683.8 1215.0C685.8 1209.0 687.9 1203.2 690.0 1200.0C691.8 1197.2 693.7 1193.8 695.5 1193.8C697.8 1193.8 700.2 1196.2 702.5 1198.8C704.6 1201.0 706.7 1207.4 708.8 1212.5C710.8 1217.6 712.9 1224.2 715.0 1230.0C717.1 1235.8 719.2 1242.9 721.2 1247.5C723.3 1252.1 725.4 1256.4 727.5 1258.8C729.6 1261.1 731.7 1263.4 733.8 1263.8C735.4 1264.0 737.1 1264.2 738.8 1264.2C740.8 1264.2 742.9 1262.6 745.0 1262.0C747.1 1261.4 749.2 1260.5 751.2 1260.5C753.3 1260.5 755.4 1262.1 757.5 1263.8C759.6 1265.4 761.7 1270.4 763.8 1275.0C765.4 1278.7 767.1 1285.9 768.8 1288.8C770.4 1291.6 772.1 1294.1 773.8 1295.0C775.4 1295.9 777.1 1296.8 778.8 1296.8C781.2 1296.8 783.8 1295.6 786.2 1295.0C789.2 1294.3 792.1 1293.0 795.0 1293.0C797.9 1293.0 800.8 1294.4 803.8 1295.5C806.7 1296.6 809.6 1298.2 812.5 1300.0C815.0 1301.5 817.5 1304.2 820.0 1305.5C823.3 1307.2 826.7 1308.0 830.0 1309.5C832.9 1310.8 835.8 1311.8 838.8 1313.8C840.8 1315.1 842.9 1317.0 845.0 1320.0C846.7 1322.4 848.3 1329.1 850.0 1332.5C851.7 1335.9 853.3 1339.4 855.0 1341.2C856.7 1343.1 858.3 1345.2 860.0 1345.2C862.1 1345.2 864.2 1341.9 866.2 1338.8C867.9 1336.3 869.6 1330.2 871.2 1326.2C872.9 1322.3 874.6 1317.6 876.2 1315.0C877.5 1313.1 878.8 1310.8 880.0 1310.5C881.5 1310.2 883.0 1310.0 884.5 1310.0C886.3 1310.0 888.2 1311.8 890.0 1313.8C891.7 1315.5 893.3 1321.9 895.0 1325.0C896.7 1328.1 898.3 1331.9 900.0 1333.0C901.7 1334.1 903.3 1335.0 905.0 1335.0C907.1 1335.0 909.2 1332.7 911.2 1330.0C912.9 1327.8 914.6 1320.4 916.2 1315.0C917.9 1309.6 919.6 1301.0 921.2 1297.5C922.9 1294.0 924.6 1291.1 926.2 1290.0C928.3 1288.7 930.4 1288.0 932.5 1287.5C935.0 1286.9 937.5 1286.9 940.0 1286.2C942.5 1285.6 945.0 1282.6 947.5 1280.0C949.6 1277.8 951.7 1274.4 953.8 1271.2C955.4 1268.7 957.1 1264.4 958.8 1263.0C960.8 1261.2 962.9 1259.5 965.0 1259.5C967.1 1259.5 969.2 1259.8 971.2 1260.0C972.9 1260.1 974.6 1260.5 976.2 1260.5C978.8 1260.5 981.2 1258.7 983.8 1257.0C985.8 1255.6 987.9 1251.1 990.0 1250.0C991.8 1249.0 993.7 1248.0 995.5 1248.0C997.0 1248.0 998.5 1248.7 1000.0 1249.5C1002.1 1250.7 1004.2 1257.3 1006.2 1262.5C1007.9 1266.6 1009.6 1273.2 1011.2 1277.5C1012.9 1281.8 1014.6 1287.9 1016.2 1288.8C1018.3 1289.8 1020.4 1290.5 1022.5 1290.5C1025.0 1290.5 1027.5 1288.5 1030.0 1288.5C1032.5 1288.5 1035.0 1290.3 1037.5 1292.5C1039.2 1294.0 1040.8 1299.6 1042.5 1302.5C1044.2 1305.4 1045.8 1308.5 1047.5 1310.0C1049.6 1311.8 1051.7 1313.1 1053.8 1313.8C1055.8 1314.4 1057.9 1314.4 1060.0 1315.0C1062.5 1315.7 1065.0 1318.4 1067.5 1319.5C1070.0 1320.6 1072.5 1322.0 1075.0 1322.0C1077.5 1322.0 1080.0 1318.9 1082.5 1316.2C1084.6 1314.1 1086.7 1308.3 1088.8 1306.2C1090.4 1304.6 1092.1 1302.7 1093.8 1302.5C1095.0 1302.4 1096.2 1302.2 1097.5 1302.2C1099.2 1302.2 1100.8 1303.4 1102.5 1305.0C1103.8 1306.2 1105.0 1312.0 1106.2 1315.0C1107.5 1318.0 1108.8 1322.0 1110.0 1323.0C1111.7 1324.4 1113.3 1325.5 1115.0 1325.5C1117.1 1325.5 1119.2 1324.0 1121.2 1322.5C1122.9 1321.3 1124.6 1316.4 1126.2 1315.0C1127.9 1313.6 1129.6 1312.3 1131.2 1312.0C1132.9 1311.7 1134.6 1311.5 1136.2 1311.5C1138.8 1311.5 1141.2 1312.6 1143.8 1313.8C1145.8 1314.7 1147.9 1317.3 1150.0 1320.0C1152.1 1322.7 1154.2 1328.4 1156.2 1331.2C1158.8 1334.7 1161.2 1336.8 1163.8 1339.5C1165.8 1341.8 1167.9 1343.4 1170.0 1346.2C1171.7 1348.5 1173.3 1351.9 1175.0 1355.0C1176.7 1358.1 1178.3 1362.8 1180.0 1365.0C1181.8 1367.4 1183.7 1370.2 1185.5 1370.2C1187.8 1370.2 1190.2 1368.4 1192.5 1366.2C1194.2 1364.7 1195.8 1358.9 1197.5 1355.0C1199.2 1351.1 1200.8 1346.2 1202.5 1342.5C1204.2 1338.8 1205.8 1334.9 1207.5 1332.5C1209.2 1330.1 1210.8 1327.7 1212.5 1327.0C1214.6 1326.2 1216.7 1326.2 1218.8 1325.5C1220.8 1324.8 1222.9 1323.6 1225.0 1322.5C1227.1 1321.4 1229.2 1320.5 1231.2 1318.8C1232.9 1317.4 1234.6 1313.6 1236.2 1312.5C1238.2 1311.2 1240.1 1310.0 1242.0 1310.0C1243.8 1310.0 1245.7 1311.0 1247.5 1312.5C1248.8 1313.5 1250.0 1319.0 1251.2 1322.5C1252.5 1326.0 1253.8 1330.5 1255.0 1333.8C1256.7 1338.1 1258.3 1342.4 1260.0 1345.0C1262.1 1348.3 1264.2 1351.0 1266.2 1352.5C1269.2 1354.6 1272.1 1357.0 1275.0 1357.0C1277.5 1357.0 1280.0 1355.3 1282.5 1353.8C1284.6 1352.5 1286.7 1350.3 1288.8 1347.5C1290.4 1345.2 1292.1 1338.5 1293.8 1337.5C1295.8 1336.2 1297.9 1335.2 1300.0 1335.2C1302.1 1335.2 1304.2 1335.8 1306.2 1336.2C1308.5 1336.7 1310.8 1338.0 1313.0 1338.0C1315.3 1338.0 1317.7 1335.9 1320.0 1334.5C1322.1 1333.3 1324.2 1331.1 1326.2 1330.0C1328.5 1328.8 1330.8 1327.0 1333.0 1327.0C1335.3 1327.0 1337.7 1328.7 1340.0 1330.0C1342.5 1331.3 1345.0 1334.0 1347.5 1335.5C1350.0 1337.0 1352.5 1338.3 1355.0 1339.5C1357.5 1340.7 1360.0 1342.6 1362.5 1343.0C1364.2 1343.3 1365.8 1343.5 1367.5 1343.5C1369.6 1343.5 1371.7 1342.2 1373.8 1341.2C1375.4 1340.5 1377.1 1338.8 1378.8 1338.5C1380.4 1338.2 1382.1 1338.0 1383.8 1338.0C1385.4 1338.0 1387.1 1340.2 1388.8 1342.5C1390.0 1344.2 1391.2 1347.9 1392.5 1352.5C1393.5 1356.2 1394.5 1363.4 1395.5 1370.0C1396.6 1377.2 1397.7 1386.3 1398.8 1395.0C1399.8 1403.7 1400.9 1413.4 1402.0 1422.5C1403.0 1430.9 1404.0 1440.1 1405.0 1447.5C1406.0 1454.9 1407.0 1462.0 1408.0 1467.5C1409.1 1473.4 1410.2 1479.2 1411.2 1482.5C1412.7 1486.8 1414.2 1491.8 1415.5 1491.8C1417.0 1491.8 1418.5 1487.7 1420.0 1483.8C1421.2 1480.4 1422.5 1472.6 1423.8 1465.0C1424.8 1458.4 1425.9 1449.4 1427.0 1440.0C1428.0 1431.3 1429.0 1420.0 1430.0 1410.0C1431.0 1400.0 1432.0 1389.2 1433.0 1380.0C1434.1 1370.1 1435.2 1359.6 1436.2 1352.5C1437.3 1345.4 1438.4 1338.6 1439.5 1335.0C1440.9 1330.3 1442.3 1326.6 1443.8 1325.0C1445.2 1323.4 1446.6 1321.8 1448.0 1321.8C1449.9 1321.8 1451.8 1323.4 1453.8 1325.0C1455.8 1326.7 1457.9 1333.2 1460.0 1335.0C1462.9 1337.5 1465.8 1337.9 1468.8 1340.0C1471.2 1341.8 1473.8 1345.1 1476.2 1347.0C1479.2 1349.2 1482.1 1351.4 1485.0 1352.5C1487.5 1353.4 1490.0 1354.5 1492.5 1354.5C1495.0 1354.5 1497.5 1354.5 1500.0 1354.5C1502.1 1354.5 1504.2 1355.8 1506.2 1357.0C1508.3 1358.2 1510.4 1360.8 1512.5 1363.8C1514.6 1366.7 1516.7 1372.1 1518.8 1376.2C1520.8 1380.4 1522.9 1386.5 1525.0 1388.8C1526.7 1390.5 1528.3 1392.5 1530.0 1392.5C1532.1 1392.5 1534.2 1390.8 1536.2 1389.5C1538.3 1388.2 1540.4 1384.1 1542.5 1383.8C1544.0 1383.5 1545.5 1383.2 1547.0 1383.2C1549.2 1383.2 1551.5 1384.7 1553.8 1386.2C1555.8 1387.7 1557.9 1393.3 1560.0 1396.2C1561.7 1398.6 1563.3 1401.8 1565.0 1402.5C1566.0 1402.9 1567.0 1403.2 1568.0 1403.2C1570.3 1403.2 1572.7 1401.0 1575.0 1398.8C1577.1 1396.8 1579.2 1391.6 1581.2 1387.5C1583.3 1383.4 1585.4 1376.6 1587.5 1373.8C1589.2 1371.5 1590.8 1368.8 1592.5 1368.8C1594.6 1368.8 1596.7 1368.8 1598.8 1368.8C1600.4 1368.8 1602.1 1370.0 1603.8 1370.0C1605.8 1370.0 1607.9 1368.3 1610.0 1366.2C1611.7 1364.6 1613.3 1358.1 1615.0 1355.0C1616.7 1351.9 1618.3 1347.6 1620.0 1347.0C1621.2 1346.6 1622.5 1346.2 1623.8 1346.2C1625.4 1346.2 1627.1 1347.4 1628.8 1348.8C1630.7 1350.3 1632.6 1355.7 1634.5 1361.2C1635.9 1365.3 1637.3 1374.0 1638.8 1378.8C1640.7 1385.2 1642.6 1390.5 1644.5 1395.0C1646.3 1399.3 1648.2 1402.3 1650.0 1406.2C1651.7 1409.8 1653.3 1415.0 1655.0 1417.5C1657.1 1420.7 1659.2 1423.8 1661.2 1424.5C1662.9 1425.1 1664.6 1425.5 1666.2 1425.5C1667.9 1425.5 1669.6 1423.3 1671.2 1421.2C1672.9 1419.2 1674.6 1413.2 1676.2 1410.0C1677.5 1407.6 1678.8 1404.6 1680.0 1403.8C1682.1 1402.3 1684.2 1401.6 1686.2 1401.2C1688.3 1400.9 1690.4 1400.9 1692.5 1400.5C1694.6 1400.1 1696.7 1397.9 1698.8 1396.2C1700.4 1394.9 1702.1 1392.1 1703.8 1391.2C1705.4 1390.4 1707.1 1389.5 1708.8 1389.5C1710.7 1389.5 1712.6 1390.9 1714.5 1392.5C1715.9 1393.7 1717.3 1398.2 1718.8 1401.2C1720.4 1404.8 1722.1 1409.8 1723.8 1412.5C1725.4 1415.2 1727.1 1418.1 1728.8 1418.8C1730.4 1419.4 1732.1 1420.0 1733.8 1420.0C1735.8 1420.0 1737.9 1418.8 1740.0 1417.5C1741.7 1416.4 1743.3 1411.2 1745.0 1410.0C1746.7 1408.8 1748.3 1407.5 1750.0 1407.5C1751.7 1407.5 1753.3 1408.6 1755.0 1410.0C1756.7 1411.4 1758.3 1416.9 1760.0 1421.2C1761.2 1424.5 1762.5 1428.3 1763.8 1432.5C1764.8 1436.2 1765.9 1441.4 1767.0 1445.0C1768.4 1449.8 1769.8 1453.8 1771.2 1457.5C1772.5 1460.7 1773.8 1464.3 1775.0 1466.2C1776.7 1468.9 1778.3 1470.8 1780.0 1472.0C1781.2 1472.9 1782.5 1474.0 1783.8 1474.0C1785.8 1474.0 1787.9 1472.4 1790.0 1471.2C1792.1 1470.1 1794.2 1468.7 1796.2 1466.2C1797.9 1464.3 1799.6 1460.0 1801.2 1456.2C1802.9 1452.5 1804.6 1447.2 1806.2 1443.8C1807.9 1440.3 1809.6 1438.1 1811.2 1435.0C1812.9 1431.9 1814.6 1428.5 1816.2 1425.0C1817.9 1421.5 1819.6 1416.8 1821.2 1413.8C1822.9 1410.8 1824.6 1407.7 1826.2 1406.2C1828.3 1404.4 1830.4 1403.3 1832.5 1402.5C1835.0 1401.6 1837.5 1401.4 1840.0 1400.5C1842.1 1399.7 1844.2 1398.2 1846.2 1397.0C1847.9 1396.1 1849.6 1394.4 1851.2 1394.2C1852.5 1394.1 1853.8 1394.0 1855.0 1394.0C1856.7 1394.0 1858.3 1395.0 1860.0 1396.2C1861.2 1397.2 1862.5 1402.0 1863.8 1403.8C1865.8 1406.6 1867.9 1408.6 1870.0 1410.0C1872.5 1411.7 1875.0 1412.1 1877.5 1413.8C1879.6 1415.2 1881.7 1417.2 1883.8 1420.0C1885.4 1422.2 1887.1 1427.1 1888.8 1430.0C1890.4 1432.9 1892.1 1436.2 1893.8 1437.5C1895.8 1439.1 1897.9 1440.8 1900.0 1440.8C1902.1 1440.8 1904.2 1439.2 1906.2 1437.5C1907.9 1436.1 1909.6 1432.3 1911.2 1428.8C1912.5 1426.1 1913.8 1420.7 1915.0 1418.8C1916.2 1416.8 1917.5 1415.0 1918.8 1414.5C1920.2 1413.9 1921.6 1413.5 1923.0 1413.5C1924.5 1413.5 1926.0 1415.1 1927.5 1416.2C1929.6 1417.9 1931.7 1422.0 1933.8 1423.8C1935.8 1425.5 1937.9 1427.8 1940.0 1427.8C1942.1 1427.8 1944.2 1426.4 1946.2 1425.0C1947.9 1423.9 1949.6 1421.5 1951.2 1418.8C1952.5 1416.7 1953.8 1411.9 1955.0 1410.0C1956.7 1407.5 1958.3 1405.5 1960.0 1404.5C1962.1 1403.3 1964.2 1402.0 1966.2 1402.0C1968.3 1402.0 1970.4 1403.8 1972.5 1404.5C1974.6 1405.2 1976.7 1406.2 1978.8 1406.2C1981.2 1406.2 1983.8 1406.2 1986.2 1406.2C1988.3 1406.2 1990.4 1406.8 1992.5 1407.5C1994.2 1408.0 1995.8 1409.6 1997.5 1411.2C1999.3 1413.1 2001.2 1415.7 2003.0 1420.0C2004.1 1422.5 2005.2 1427.1 2006.2 1432.5C2007.3 1437.9 2008.4 1446.4 2009.5 1455.0C2010.5 1462.9 2011.5 1472.5 2012.5 1482.5C2013.3 1490.9 2014.2 1500.8 2015.0 1510.0C2015.8 1519.2 2016.7 1529.1 2017.5 1537.5C2018.5 1547.5 2019.5 1555.4 2020.5 1565.0C2021.4 1573.8 2022.3 1584.6 2023.2 1592.5C2024.2 1601.1 2025.2 1607.8 2026.2 1615.0C2027.1 1621.0 2027.9 1629.0 2028.8 1632.5C2029.8 1636.8 2031.1 1641.5 2031.8 1641.5C2032.8 1641.5 2034.2 1636.9 2035.5 1632.5C2036.6 1628.7 2037.7 1621.2 2038.8 1612.5C2039.6 1605.8 2040.4 1594.6 2041.2 1585.0C2042.1 1575.4 2042.9 1565.8 2043.8 1555.0C2044.6 1544.2 2045.4 1531.7 2046.2 1520.0C2047.1 1508.3 2047.9 1496.2 2048.8 1485.0C2049.6 1473.8 2050.4 1462.4 2051.2 1452.5C2052.1 1442.6 2052.9 1431.8 2053.8 1425.0C2054.6 1418.2 2055.4 1411.1 2056.2 1408.8C2057.5 1405.3 2058.8 1403.1 2060.0 1402.5C2061.2 1401.9 2062.5 1401.5 2063.8 1401.5C2065.8 1401.5 2067.9 1403.8 2070.0 1403.8C2072.1 1403.8 2074.2 1403.8 2076.2 1403.8C2077.9 1403.8 2079.6 1401.8 2081.2 1400.0C2082.9 1398.2 2084.6 1393.5 2086.2 1390.0C2087.9 1386.5 2089.6 1382.3 2091.2 1378.8C2093.3 1374.3 2095.4 1370.7 2097.5 1366.2C2099.2 1362.7 2100.8 1358.5 2102.5 1355.0C2104.2 1351.5 2105.8 1346.8 2107.5 1345.0C2108.9 1343.5 2110.3 1341.8 2111.8 1341.8C2113.5 1341.8 2115.2 1343.8 2117.0 1346.2C2118.4 1348.2 2119.8 1354.9 2121.2 1360.0C2122.5 1364.5 2123.8 1370.7 2125.0 1375.0C2126.2 1379.3 2127.5 1384.1 2128.8 1386.2C2130.4 1389.1 2132.1 1391.7 2133.8 1392.0C2135.4 1392.3 2137.1 1392.5 2138.8 1392.5C2140.4 1392.5 2142.1 1391.2 2143.8 1391.2C2145.4 1391.2 2147.1 1392.5 2148.8 1393.8C2150.4 1395.0 2152.1 1398.6 2153.8 1401.2C2155.4 1403.9 2157.1 1407.8 2158.8 1409.5C2160.2 1411.0 2161.6 1412.8 2163.0 1412.8C2164.9 1412.8 2166.8 1411.2 2168.8 1409.5C2170.4 1408.0 2172.1 1404.2 2173.8 1400.0C2175.0 1396.8 2176.2 1390.0 2177.5 1386.2C2179.2 1381.2 2180.8 1377.3 2182.5 1373.8C2184.2 1370.2 2185.8 1365.6 2187.5 1364.5C2189.6 1363.1 2191.7 1362.0 2193.8 1362.0C2195.8 1362.0 2197.9 1363.4 2200.0 1365.0C2202.1 1366.6 2204.2 1372.9 2206.2 1378.8C2207.9 1383.4 2209.6 1391.9 2211.2 1397.5C2212.9 1403.1 2214.6 1407.5 2216.2 1412.5C2217.9 1417.5 2219.6 1421.9 2221.2 1427.5C2222.9 1433.1 2224.6 1441.2 2226.2 1446.2C2227.9 1451.2 2229.6 1456.1 2231.2 1458.8C2232.8 1461.1 2234.2 1464.0 2235.8 1464.0C2237.6 1464.0 2239.4 1460.8 2241.2 1457.5C2242.9 1454.5 2244.6 1447.1 2246.2 1440.0C2247.5 1434.7 2248.8 1424.9 2250.0 1420.0C2251.7 1413.5 2253.3 1409.0 2255.0 1405.0C2257.1 1400.0 2259.2 1395.9 2261.2 1392.5C2263.3 1389.1 2265.4 1384.5 2267.5 1383.8C2270.0 1382.9 2272.5 1382.2 2275.0 1382.2C2277.1 1382.2 2279.2 1384.0 2281.2 1384.5C2283.3 1385.0 2285.4 1385.5 2287.5 1385.5C2290.0 1385.5 2292.5 1383.5 2295.0 1383.0C2296.7 1382.7 2298.3 1382.2 2300.0 1382.2C2302.1 1382.2 2304.2 1383.5 2306.2 1385.0C2307.9 1386.2 2309.6 1390.2 2311.2 1393.8C2312.5 1396.4 2313.8 1402.0 2315.0 1403.8C2316.8 1406.3 2318.7 1408.8 2320.5 1408.8C2322.4 1408.8 2324.3 1407.1 2326.2 1405.0C2327.5 1403.6 2328.8 1398.3 2330.0 1395.0C2331.2 1391.7 2332.5 1386.5 2333.8 1385.0C2335.4 1383.0 2337.1 1381.2 2338.8 1381.2C2340.8 1381.2 2342.9 1383.6 2345.0 1385.0C2347.1 1386.4 2349.2 1389.0 2351.2 1389.5C2352.3 1389.8 2353.4 1390.0 2354.5 1390.0C2356.8 1390.0 2359.0 1388.3 2361.2 1386.2C2362.9 1384.7 2364.6 1378.9 2366.2 1375.0C2367.9 1371.1 2369.6 1365.8 2371.2 1362.5C2372.5 1360.0 2373.8 1357.2 2375.0 1356.2C2376.5 1355.1 2378.0 1354.0 2379.5 1354.0C2381.8 1354.0 2384.0 1355.7 2386.2 1356.2C2388.2 1356.8 2390.1 1357.5 2392.0 1357.5C2394.2 1357.5 2396.5 1355.4 2398.8 1353.8C2400.8 1352.3 2402.9 1349.6 2405.0 1347.5C2406.7 1345.8 2408.3 1343.4 2410.0 1342.5C2411.2 1341.8 2412.5 1341.0 2413.8 1341.0C2415.8 1341.0 2417.9 1343.0 2420.0 1345.0C2421.7 1346.6 2423.3 1351.1 2425.0 1353.8C2426.5 1356.2 2428.0 1359.4 2429.5 1360.5C2430.5 1361.2 2431.5 1362.0 2432.5 1362.0C2434.6 1362.0 2436.7 1360.0 2438.8 1357.5C2440.0 1356.0 2441.2 1350.8 2442.5 1347.5C2443.8 1344.2 2445.0 1339.3 2446.2 1337.5C2447.5 1335.7 2448.8 1334.3 2450.0 1333.8C2451.7 1333.0 2453.3 1332.2 2455.0 1332.2C2457.1 1332.2 2459.2 1334.0 2461.2 1334.5C2463.3 1335.0 2465.4 1335.5 2467.5 1335.5C2470.0 1335.5 2472.5 1334.3 2475.0 1333.8C2477.1 1333.3 2479.2 1332.2 2481.2 1332.2C2483.3 1332.2 2485.4 1333.3 2487.5 1334.5C2489.2 1335.5 2490.8 1338.4 2492.5 1341.2C2493.8 1343.4 2495.0 1346.9 2496.2 1350.0C2497.5 1353.1 2498.8 1357.3 2500.0 1360.0C2501.7 1363.6 2503.3 1366.9 2505.0 1368.8C2507.1 1371.1 2509.2 1373.3 2511.2 1373.8C2512.7 1374.0 2514.1 1374.2 2515.5 1374.2C2517.8 1374.2 2520.2 1372.3 2522.5 1371.2C2524.6 1370.3 2526.7 1368.5 2528.8 1368.0C2530.4 1367.6 2532.1 1367.2 2533.8 1367.2C2535.8 1367.2 2537.9 1368.7 2540.0 1370.0C2542.1 1371.3 2544.2 1374.7 2546.2 1377.5C2547.9 1379.7 2549.6 1383.5 2551.2 1385.0C2553.3 1386.8 2555.4 1387.4 2557.5 1388.8C2560.0 1390.3 2562.5 1392.3 2565.0 1393.8C2566.7 1394.7 2568.3 1395.7 2570.0 1396.2C2571.5 1396.8 2573.0 1397.5 2574.5 1397.5C2576.3 1397.5 2578.2 1396.5 2580.0 1395.5C2581.7 1394.6 2583.3 1392.4 2585.0 1390.0C2586.7 1387.6 2588.3 1383.0 2590.0 1380.0C2592.1 1376.3 2594.2 1373.1 2596.2 1370.0C2598.3 1366.9 2600.4 1364.4 2602.5 1361.2C2604.6 1358.1 2606.7 1355.0 2608.8 1351.2C2610.4 1348.3 2612.1 1342.6 2613.8 1341.2C2615.2 1340.1 2616.8 1339.0 2618.2 1339.0C2620.1 1339.0 2621.9 1340.0 2623.8 1341.2C2625.4 1342.4 2627.1 1349.0 2628.8 1351.2C2630.4 1353.5 2632.1 1355.4 2633.8 1356.2C2635.4 1357.1 2637.1 1358.0 2638.8 1358.0C2640.8 1358.0 2642.9 1355.8 2645.0 1353.8C2646.7 1352.1 2648.3 1347.1 2650.0 1345.0C2651.7 1342.9 2653.3 1340.8 2655.0 1340.0C2656.7 1339.2 2658.3 1338.5 2660.0 1338.5C2662.1 1338.5 2664.2 1340.8 2666.2 1342.5C2668.3 1344.2 2670.4 1347.4 2672.5 1350.0C2674.2 1352.0 2675.8 1355.1 2677.5 1356.2C2679.2 1357.4 2680.8 1358.5 2682.5 1358.5C2684.6 1358.5 2686.7 1356.1 2688.8 1355.0C2690.8 1353.9 2692.9 1351.8 2695.0 1351.8C2696.7 1351.8 2698.3 1354.1 2700.0 1356.2C2701.7 1358.4 2703.3 1363.2 2705.0 1367.5C2706.7 1371.8 2708.3 1378.6 2710.0 1382.5C2711.5 1386.0 2713.0 1389.5 2714.5 1391.2C2715.5 1392.4 2716.5 1393.8 2717.5 1393.8C2719.6 1393.8 2721.7 1390.0 2723.8 1386.2C2725.4 1383.3 2727.1 1375.2 2728.8 1370.0C2730.4 1364.8 2732.1 1358.3 2733.8 1355.0C2735.4 1351.7 2737.1 1348.6 2738.8 1347.5C2740.4 1346.4 2742.1 1345.5 2743.8 1345.5C2745.8 1345.5 2747.9 1346.7 2750.0 1347.5C2751.8 1348.2 2753.7 1348.7 2755.5 1350.0C2757.4 1351.4 2759.3 1356.2 2761.2 1360.0C2762.9 1363.3 2764.6 1367.1 2766.2 1371.2C2767.9 1375.4 2769.6 1381.1 2771.2 1385.0C2772.7 1388.3 2774.1 1392.3 2775.5 1393.8C2776.8 1395.1 2778.2 1396.5 2779.5 1396.5C2781.8 1396.5 2784.0 1392.8 2786.2 1390.0C2787.9 1387.9 2789.6 1383.4 2791.2 1381.2C2792.9 1379.1 2794.6 1377.1 2796.2 1376.2C2797.7 1375.5 2799.1 1374.8 2800.5 1374.8C2802.4 1374.8 2804.3 1376.7 2806.2 1377.0C2807.7 1377.2 2809.1 1377.5 2810.5 1377.5C2812.8 1377.5 2815.2 1375.5 2817.5 1373.8C2819.6 1372.2 2821.7 1368.5 2823.8 1366.2C2825.8 1364.0 2827.9 1361.7 2830.0 1360.0C2832.5 1358.0 2835.0 1357.0 2837.5 1355.0C2840.0 1353.0 2842.5 1350.9 2845.0 1347.5C2847.1 1344.7 2849.2 1340.6 2851.2 1335.0C2852.9 1330.5 2854.6 1322.4 2856.2 1315.0C2857.9 1307.6 2859.6 1296.2 2861.2 1290.0C2862.9 1283.8 2864.6 1278.5 2866.2 1275.0C2867.5 1272.4 2868.8 1269.4 2870.0 1268.8C2871.2 1268.1 2872.5 1267.5 2873.8 1267.5C2875.4 1267.5 2877.1 1269.3 2878.8 1271.2C2880.4 1273.2 2882.1 1278.4 2883.8 1283.8C2885.0 1287.8 2886.2 1295.3 2887.5 1300.0C2889.0 1305.7 2890.5 1309.5 2892.0 1315.0C2893.4 1320.2 2894.8 1326.3 2896.2 1332.5C2897.5 1338.0 2898.8 1345.8 2900.0 1350.0C2901.2 1354.2 2902.5 1358.3 2903.8 1360.0C2905.4 1362.2 2907.1 1364.2 2908.8 1364.2C2910.8 1364.2 2912.9 1362.0 2915.0 1361.2C2917.1 1360.5 2919.2 1359.5 2921.2 1359.5C2923.8 1359.5 2926.2 1360.5 2928.8 1360.5C2931.2 1360.5 2933.8 1360.5 2936.2 1360.5C2938.3 1360.5 2940.4 1356.9 2942.5 1356.2C2944.2 1355.7 2945.8 1355.2 2947.5 1355.2C2948.8 1355.2 2950.0 1355.6 2951.2 1356.2C2952.5 1356.9 2953.8 1362.5 2955.0 1367.5C2956.0 1371.5 2957.0 1378.2 2958.0 1385.0C2958.9 1391.3 2959.8 1399.2 2960.8 1407.5C2961.6 1415.0 2962.4 1424.2 2963.2 1432.5C2964.1 1440.8 2964.9 1450.2 2965.8 1457.5C2966.5 1464.0 2967.2 1471.5 2968.0 1475.0C2969.3 1481.2 2971.1 1487.5 2972.0 1487.5C2973.2 1487.5 2974.8 1482.4 2976.2 1477.5C2977.3 1473.7 2978.4 1466.4 2979.5 1457.5C2980.3 1450.6 2981.2 1437.9 2982.0 1427.5C2982.8 1417.1 2983.7 1404.9 2984.5 1395.0C2985.5 1383.1 2986.5 1372.9 2987.5 1362.5C2988.5 1352.1 2989.5 1340.1 2990.5 1332.5C2991.6 1324.2 2992.7 1317.8 2993.8 1312.5C2995.0 1306.4 2996.2 1300.8 2997.5 1297.5C2999.0 1293.5 3000.5 1290.2 3002.0 1288.8C3003.8 1287.0 3005.7 1285.2 3007.5 1285.2C3009.2 1285.2 3010.8 1287.0 3012.5 1288.8C3014.2 1290.5 3015.8 1295.4 3017.5 1298.8C3019.2 1302.1 3020.8 1307.6 3022.5 1308.8C3024.6 1310.2 3026.7 1311.2 3028.8 1311.2C3030.8 1311.2 3032.9 1310.0 3035.0 1309.5C3036.7 1309.1 3038.3 1308.5 3040.0 1308.5C3042.1 1308.5 3044.2 1309.6 3046.2 1310.5C3047.9 1311.2 3049.6 1312.8 3051.2 1313.8C3052.7 1314.5 3054.1 1315.8 3055.5 1315.8C3057.4 1315.8 3059.3 1314.2 3061.2 1312.5C3062.9 1311.1 3064.6 1307.3 3066.2 1303.8C3067.9 1300.2 3069.6 1294.2 3071.2 1290.0C3072.5 1286.9 3073.8 1283.2 3075.0 1281.2C3076.2 1279.3 3077.5 1277.5 3078.8 1277.0C3080.0 1276.5 3081.2 1276.0 3082.5 1276.0C3085.0 1276.0 3087.5 1278.1 3090.0 1278.8C3092.3 1279.4 3094.7 1280.2 3097.0 1280.2C3099.7 1280.2 3102.3 1279.0 3105.0 1278.2C3107.1 1277.7 3109.2 1276.5 3111.2 1276.5C3113.3 1276.5 3115.4 1277.6 3117.5 1278.8C3119.6 1279.9 3121.7 1282.0 3123.8 1285.0C3125.4 1287.4 3127.1 1293.0 3128.8 1297.5C3130.4 1302.0 3132.1 1306.7 3133.8 1312.5C3135.0 1316.8 3136.2 1321.8 3137.5 1327.5C3138.8 1333.2 3140.0 1339.9 3141.2 1347.5C3142.3 1354.0 3143.4 1362.2 3144.5 1370.0C3145.5 1377.2 3146.5 1385.4 3147.5 1392.5C3148.5 1399.6 3149.5 1407.0 3150.5 1412.5C3151.6 1418.4 3152.7 1423.8 3153.8 1427.5C3155.0 1431.8 3156.2 1436.1 3157.5 1437.5C3158.8 1438.9 3160.0 1440.2 3161.2 1440.2C3162.7 1440.2 3164.1 1437.6 3165.5 1435.0C3166.8 1432.5 3168.2 1426.1 3169.5 1420.0C3170.7 1414.7 3171.8 1406.9 3173.0 1400.0C3174.1 1393.6 3175.2 1385.8 3176.2 1380.0C3177.5 1373.3 3178.8 1369.1 3180.0 1362.5C3181.2 1355.9 3182.5 1347.6 3183.8 1340.0C3184.8 1333.4 3185.9 1326.4 3187.0 1320.0C3188.2 1313.1 3189.3 1305.9 3190.5 1300.0C3192.0 1292.5 3193.5 1285.4 3195.0 1280.0C3196.7 1274.0 3198.3 1269.0 3200.0 1265.0C3202.1 1260.0 3204.2 1256.1 3206.2 1252.5C3208.2 1249.2 3210.1 1247.6 3212.0 1243.8C3213.8 1240.1 3215.7 1233.7 3217.5 1227.5C3219.2 1221.8 3220.8 1214.2 3222.5 1207.5C3223.8 1202.5 3225.0 1196.5 3226.2 1192.5C3227.5 1188.5 3228.8 1184.0 3230.0 1182.5C3231.8 1180.3 3233.7 1178.5 3235.5 1178.5C3237.4 1178.5 3239.3 1180.7 3241.2 1182.5C3243.3 1184.5 3245.4 1189.0 3247.5 1192.5C3249.6 1196.0 3251.7 1200.8 3253.8 1203.8C3255.8 1206.8 3257.9 1210.0 3260.0 1211.2C3262.1 1212.5 3264.2 1213.2 3266.2 1213.8C3268.3 1214.3 3270.4 1214.4 3272.5 1215.0C3274.6 1215.6 3276.7 1217.4 3278.8 1218.8C3281.2 1220.4 3283.8 1223.6 3286.2 1224.5C3288.8 1225.4 3291.2 1225.9 3293.8 1226.2C3296.2 1226.6 3298.8 1226.6 3301.2 1227.0C3303.8 1227.4 3306.2 1229.4 3308.8 1230.5C3310.7 1231.3 3312.6 1232.8 3314.5 1232.8C3316.8 1232.8 3319.0 1230.9 3321.2 1229.5C3322.9 1228.5 3324.6 1225.9 3326.2 1225.5C3327.5 1225.2 3328.8 1225.0 3330.0 1225.0C3331.7 1225.0 3333.3 1226.2 3335.0 1227.5C3336.7 1228.8 3338.3 1233.7 3340.0 1236.2C3341.7 1238.8 3343.3 1242.2 3345.0 1243.0C3346.7 1243.8 3348.3 1244.5 3350.0 1244.5C3352.5 1244.5 3355.0 1242.7 3357.5 1241.2C3359.6 1240.0 3361.7 1236.3 3363.8 1235.5C3365.7 1234.7 3367.6 1234.0 3369.5 1234.0C3371.3 1234.0 3373.2 1235.4 3375.0 1237.0C3376.7 1238.4 3378.3 1243.2 3380.0 1246.2C3381.7 1249.3 3383.3 1254.0 3385.0 1255.5C3386.7 1257.0 3388.3 1258.4 3390.0 1258.4C3391.7 1258.4 3393.3 1256.0 3395.0 1253.6C3396.5 1251.4 3398.0 1245.0 3399.5 1239.9C3400.9 1235.1 3402.3 1227.6 3403.7 1223.6C3405.0 1220.2 3406.2 1216.4 3407.5 1215.4C3409.0 1214.1 3410.5 1213.1 3412.0 1213.1C3413.8 1213.1 3415.6 1214.3 3417.5 1215.4C3419.1 1216.4 3420.8 1219.5 3422.5 1221.1C3424.5 1223.1 3426.6 1225.8 3428.7 1226.1C3431.6 1226.6 3434.5 1226.9 3437.5 1226.9C3440.8 1226.9 3444.1 1226.9 3447.4 1226.9C3449.9 1226.9 3452.4 1226.5 3454.9 1226.1C3457.4 1225.7 3459.9 1224.1 3462.4 1222.9C3464.9 1221.7 3467.4 1220.6 3469.9 1218.6C3471.6 1217.3 3473.3 1215.5 3474.9 1212.4C3476.2 1210.1 3477.4 1205.2 3478.7 1199.9C3479.9 1194.5 3481.2 1186.2 3482.4 1177.4C3483.4 1170.4 3484.4 1160.0 3485.4 1152.4C3486.5 1144.2 3487.6 1135.7 3488.7 1129.9C3489.9 1123.3 3491.2 1116.8 3492.4 1113.7C3493.9 1110.1 3495.4 1106.2 3496.9 1106.2C3498.6 1106.2 3500.2 1107.9 3501.9 1110.0C3503.3 1111.7 3504.7 1117.0 3506.2 1122.5C3507.2 1126.6 3508.3 1133.9 3509.4 1139.9C3510.4 1145.5 3511.4 1153.7 3512.4 1157.4C3513.6 1162.1 3514.9 1166.0 3516.1 1167.4C3518.1 1169.6 3520.0 1171.4 3521.9 1171.4C3524.1 1171.4 3526.4 1170.3 3528.6 1169.4C3531.1 1168.5 3533.6 1166.8 3536.1 1165.4C3538.6 1164.0 3541.1 1161.8 3543.6 1161.2C3546.1 1160.5 3548.6 1159.9 3551.1 1159.9C3553.2 1159.9 3555.3 1160.8 3557.4 1161.2C3559.4 1161.6 3561.5 1162.4 3563.6 1162.4C3565.7 1162.4 3567.8 1160.8 3569.9 1159.9C3572.4 1158.8 3574.9 1157.2 3577.4 1156.2C3579.4 1155.4 3581.3 1154.8 3583.3 1154.2"/>
</g>
<rect x="490.2" y="164.0" width="1384.8" height="265.1" fill="#fff" stroke="#000" stroke-width="4"/>
<g stroke-width="12.2" stroke-linecap="round"><line x1="536.9" y1="236.1" x2="776.7" y2="236.1" stroke="#00ff00"/><line x1="536.9" y1="369" x2="776.7" y2="369" stroke="#ff0000"/></g>
<g font-size="108.5"><text x="802.3" y="271.6">400N+2 h Wear Surface</text><text x="802.3" y="403.5">400N+3 h Wear Surface</text></g>
</svg></body></html>
